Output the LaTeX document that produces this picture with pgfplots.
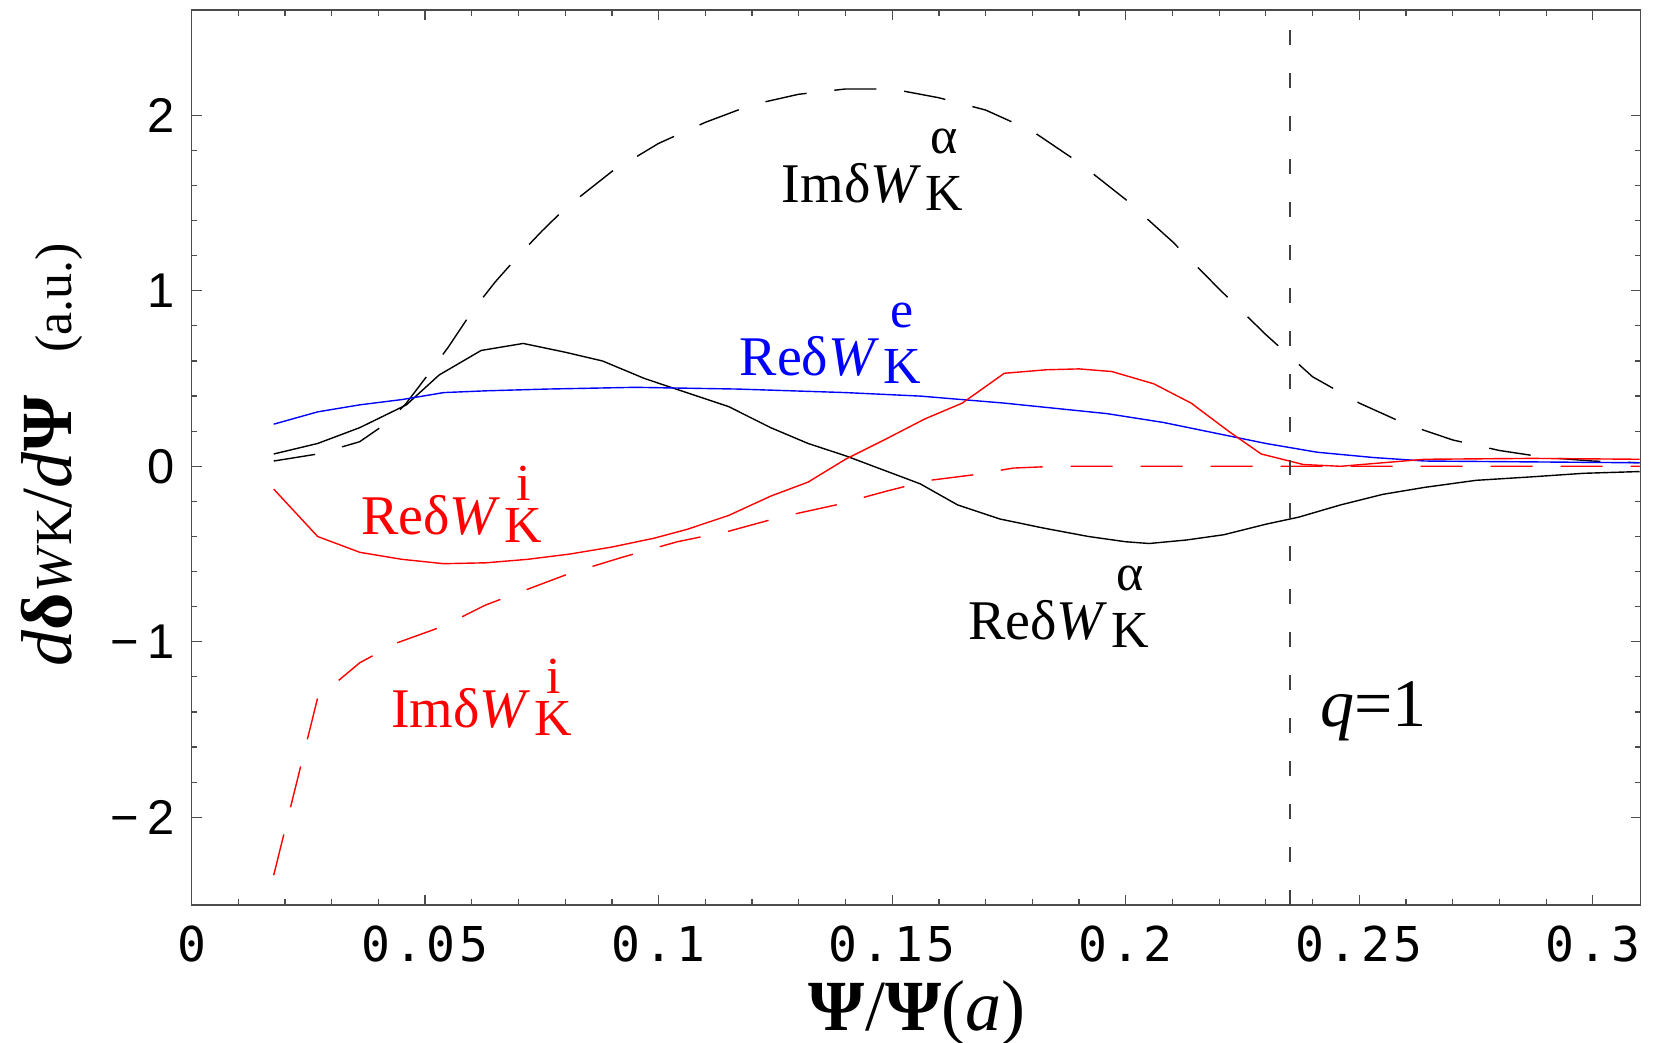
\documentclass[border=0pt]{standalone}
\usepackage{pgfplots}
\pgfplotsset{compat=1.18}
\usepackage{fontspec}
\setmainfont{Liberation Serif}
\newfontfamily\tsans{Liberation Sans}
\newfontfamily\tmono[LetterSpace=8]{DejaVu Sans Mono}
\newcommand{\wk}[3]{#1δ\textit{W}\hspace{1pt}\ooalign{\hfil\raisebox{-2pt}{\fontsize{13}{13}\selectfont K}\hfil\cr\hfil\raisebox{#3}{\fontsize{13}{13}\selectfont #2}\hfil\cr}}

\pgfplotstableread{
x y
0.0176 0.03
0.027 0.07
0.036 0.14
0.042 0.25
0.046 0.36
0.050 0.50
0.055 0.68
0.060 0.88
0.065 1.05
0.070 1.20
0.075 1.34
0.080 1.47
0.090 1.68
0.100 1.84
0.110 1.96
0.120 2.06
0.130 2.12
0.140 2.15
0.150 2.15
0.160 2.10
0.170 2.03
0.180 1.91
0.190 1.73
0.200 1.52
0.210 1.28
0.220 1.01
0.230 0.75
0.240 0.51
0.250 0.36
0.260 0.24
0.270 0.15
0.280 0.09
0.290 0.05
0.300 0.03
0.310 0.02
}\imalpha

\pgfplotstableread{
x y
0.0176 0.07
0.027 0.13
0.036 0.22
0.046 0.35
0.053 0.52
0.062 0.66
0.071 0.70
0.080 0.65
0.088 0.60
0.097 0.50
0.106 0.42
0.115 0.34
0.124 0.22
0.132 0.13
0.140 0.06
0.149 -0.03
0.156 -0.10
0.164 -0.22
0.173 -0.30
0.182 -0.35
0.192 -0.40
0.200 -0.43
0.205 -0.44
0.213 -0.42
0.221 -0.39
0.230 -0.33
0.237 -0.29
0.246 -0.22
0.255 -0.16
0.264 -0.12
0.275 -0.08
0.287 -0.06
0.298 -0.04
0.310 -0.03
}\realpha

\pgfplotstableread{
x y
0.0176 0.24
0.027 0.31
0.036 0.35
0.045 0.38
0.054 0.42
0.063 0.43
0.076 0.44
0.095 0.45
0.117 0.44
0.140 0.42
0.156 0.40
0.174 0.36
0.185 0.33
0.196 0.30
0.208 0.25
0.219 0.19
0.230 0.13
0.241 0.08
0.253 0.05
0.264 0.03
0.287 0.025
0.310 0.02
}\ree

\pgfplotstableread{
x y
0.0176 -0.13
0.027 -0.40
0.036 -0.49
0.045 -0.53
0.054 -0.555
0.063 -0.55
0.072 -0.53
0.081 -0.50
0.090 -0.46
0.099 -0.41
0.106 -0.36
0.115 -0.28
0.124 -0.17
0.132 -0.09
0.140 0.04
0.149 0.16
0.157 0.27
0.165 0.36
0.174 0.53
0.183 0.55
0.190 0.555
0.197 0.54
0.206 0.47
0.214 0.36
0.222 0.20
0.229 0.07
0.238 0.01
0.246 0.0
0.255 0.02
0.264 0.04
0.287 0.045
0.310 0.04
}\rei

\pgfplotstableread{
x y
0.0176 -2.33
0.027 -1.32
0.036 -1.12
0.0436 -1.01
0.054 -0.91
0.063 -0.79
0.072 -0.70
0.081 -0.61
0.092 -0.52
0.104 -0.43
0.115 -0.37
0.126 -0.29
0.138 -0.22
0.149 -0.14
0.158 -0.08
0.167 -0.05
0.176 -0.01
0.185 0.0
0.220 0.0
0.260 0.0
0.310 0.0
}\imi

\begin{document}
\begin{tikzpicture}
\path[use as bounding box] (-47.875pt,-34.25pt) rectangle (366.375pt,226.25pt);
\begin{axis}[
  at={(0,0)}, anchor=south west,
  scale only axis, width=362.25pt, height=223.75pt,
  xmin=0, xmax=0.3102, ymin=-2.5, ymax=2.6,
  axis line style={draw=black!70, line width=0.3pt},
  tick style={draw=black!70, line width=0.3pt},
  tick align=inside,
  major tick length=2.5pt, minor tick length=1.4pt,
  xtick={0,0.05,0.1,0.15,0.2,0.25,0.3},
  xticklabels={0,0.05,0.1,0.15,0.2,0.25,0.3},
  minor x tick num=4,
  ytick={-2,-1,0,1,2},
  yticklabels={−\,2,−\,1,0,1,2},
  minor y tick num=4,
  xticklabel style={font=\tmono\fontsize{12}{12}\selectfont, inner sep=0pt, yshift=-5pt},
  yticklabel style={font=\tsans\fontsize{12.2}{12}\selectfont, inner sep=0pt, xshift=-4.1pt},
  every axis plot/.append style={line width=0.35pt},
  clip=true,
]
\addplot[black, no markers, dash pattern=on 10.5pt off 7pt] table {\imalpha};
\addplot[black, no markers] table {\realpha};
\addplot[blue, no markers] table {\ree};
\addplot[red, no markers] table {\rei};
\addplot[red, no markers, dash pattern=on 10.5pt off 7pt] table {\imi};
\draw[black!75, line width=0.35pt, dash pattern=on 3.75pt off 7pt] (axis cs:0.2352,-2.5) -- (axis cs:0.2352,2.6);
\node[anchor=base west, inner sep=0pt, font=\fontsize{14}{14}\selectfont] at (axis cs:0.1262,1.505) {\wk{Im}{α}{12.25pt}};
\node[anchor=base west, inner sep=0pt, text=blue, font=\fontsize{14}{14}\selectfont] at (axis cs:0.1172,0.52) {\wk{Re}{e}{12pt}};
\node[anchor=base west, inner sep=0pt, text=red, font=\fontsize{14}{14}\selectfont] at (axis cs:0.0362,-0.39) {\wk{Re}{i}{8.5pt}};
\node[anchor=base west, inner sep=0pt, font=\fontsize{14}{14}\selectfont] at (axis cs:0.1661,-0.987) {\wk{Re}{α}{12.25pt}};
\node[anchor=base west, inner sep=0pt, text=red, font=\fontsize{14}{14}\selectfont] at (axis cs:0.0426,-1.489) {\wk{Im}{i}{8.5pt}};
\node[anchor=base west, inner sep=0pt, font=\fontsize{17}{17}\selectfont] at (axis cs:0.2415,-1.48) {\textit{q}=1};
\end{axis}
\node[anchor=base, inner sep=0pt, font=\fontsize{18}{18}\selectfont] at (181.4pt,-31.25pt) {\textbf{Ψ}/\textbf{Ψ}(\textit{a})};
\node[anchor=base, rotate=90, inner sep=0pt, font=\fontsize{18}{18}\selectfont] at (-29.9pt,112.6pt) {\textit{d}\textbf{δ}{\fontsize{13}{13}\selectfont\textit{W}K}/\textit{d}\textbf{Ψ}\hspace{0.6em}{\fontsize{13}{13}\selectfont(a.u.)}};
\end{tikzpicture}
\end{document}
